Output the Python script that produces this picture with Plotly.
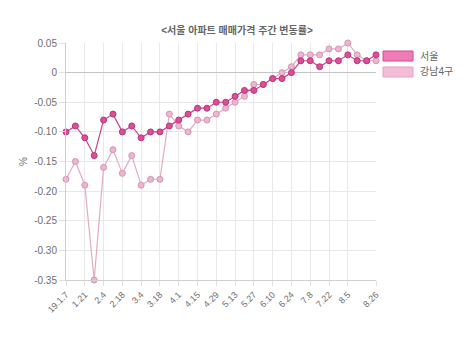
import plotly.graph_objects as go

weeks = ["1.7","1.14","1.21","1.28","2.4","2.11","2.18","2.25","3.4","3.11","3.18","3.25",
         "4.1","4.8","4.15","4.22","4.29","5.6","5.13","5.20","5.27","6.3","6.10","6.17",
         "6.24","7.1","7.8","7.15","7.22","7.29","8.5","8.12","8.19","8.26"]
seoul = [-0.10,-0.09,-0.11,-0.14,-0.08,-0.07,-0.10,-0.09,-0.11,-0.10,-0.10,-0.09,
         -0.08,-0.07,-0.06,-0.06,-0.05,-0.05,-0.04,-0.03,-0.03,-0.02,-0.01,-0.01,
         0.00,0.02,0.02,0.01,0.02,0.02,0.03,0.02,0.02,0.03]
gangnam = [-0.18,-0.15,-0.19,-0.35,-0.16,-0.13,-0.17,-0.14,-0.19,-0.18,-0.18,-0.07,
           -0.09,-0.10,-0.08,-0.08,-0.07,-0.06,-0.05,-0.04,-0.02,-0.02,-0.01,0.00,
           0.01,0.03,0.03,0.03,0.04,0.04,0.05,0.03,0.02,0.02]
tick_labels = ["19.1.7","1.21","2.4","2.18","3.4","3.18","4.1","4.15","4.29","5.13",
               "5.27","6.10","6.24","7.8","7.22","8.5","8.26"]
tick_weeks = ["1.7","1.21","2.4","2.18","3.4","3.18","4.1","4.15","4.29","5.13",
              "5.27","6.10","6.24","7.8","7.22","8.5","8.26"]
y_ticks = [0.05,0,-0.05,-0.10,-0.15,-0.20,-0.25,-0.30,-0.35]
y_text = ["0.05","0","-0.05","-0.10","-0.15","-0.20","-0.25","-0.30","-0.35"]
series_names = ["서울","강남4구"]

xs = list(range(len(weeks)))
tickvals = [weeks.index(w) for w in tick_weeks]

FONT = "Liberation Sans, Noto Sans CJK KR, sans-serif"
fig = go.Figure()
fig.add_trace(go.Scatter(
    x=xs, y=gangnam, name=series_names[1], mode="lines+markers",
    line=dict(color="#e3a9c4", width=1.2),
    marker=dict(size=6, color="#ebb7cf", line=dict(color="#d494b4", width=1)),
    showlegend=False, cliponaxis=False))
fig.add_trace(go.Scatter(
    x=xs, y=seoul, name=series_names[0], mode="lines+markers",
    line=dict(color="#c9428a", width=1.2),
    marker=dict(size=6, color="#dc4e98", line=dict(color="#b8357a", width=1)),
    showlegend=False, cliponaxis=False))

# legend boxes (pixel positions converted to paper coords)
L, R, T, B = 66, 376, 43, 280
def px(x): return (x - L) / (R - L)
def py(y): return (B - y) / (B - T)
legend_items = [(series_names[0], "#f17bb9", "#cf4a92", 51), (series_names[1], "#f3bdd8", "#e2a2c2", 67)]
shapes = []
annotations = []
for name, fill, border, top in legend_items:
    shapes.append(dict(type="rect", xref="paper", yref="paper",
                       x0=px(383), x1=px(413), y0=py(top + 10), y1=py(top),
                       fillcolor=fill, line=dict(color=border, width=1)))
    annotations.append(dict(text=name, xref="paper", yref="paper", x=px(418), y=py(top + 5),
                            xanchor="left", yanchor="middle", showarrow=False,
                            font=dict(size=10, color="#666666", family=FONT)))

fig.update_layout(
    width=474, height=340,
    margin=dict(l=L, r=474 - R, t=T, b=340 - B),
    paper_bgcolor="white", plot_bgcolor="white",
    title=dict(text="<b>&lt;서울 아파트 매매가격 주간 변동률&gt;</b>", x=0.5, xanchor="center",
               y=1 - 30 / 340, yanchor="middle",
               font=dict(size=10, color="#666666", family=FONT)),
    shapes=shapes, annotations=annotations,
    xaxis=dict(range=[0, len(weeks) - 1], tickmode="array", tickvals=tickvals, ticktext=tick_labels,
               tickangle=-45, showgrid=True, gridcolor="#e8e8e8", gridwidth=1,
               showline=True, linecolor="#d0d0d0", linewidth=1,
               ticks="outside", ticklen=5, tickcolor="#e0e0e0",
               tickfont=dict(size=9, color="#6e6e6e", family=FONT), zeroline=False),
    yaxis=dict(range=[-0.35, 0.05], tickmode="array", tickvals=y_ticks, ticktext=y_text,
               showgrid=True, gridcolor="#e8e8e8", gridwidth=1,
               showline=True, linecolor="#d0d0d0", linewidth=1,
               ticks="outside", ticklen=6, tickcolor="#e0e0e0",
               zeroline=True, zerolinecolor="#c4c4c4", zerolinewidth=1,
               tickfont=dict(size=10, color="#6e6e6e", family=FONT),
               title=dict(text="%", font=dict(size=10, color="#6e6e6e", family=FONT), standoff=4)),
)
fig.write_html("out.html")
